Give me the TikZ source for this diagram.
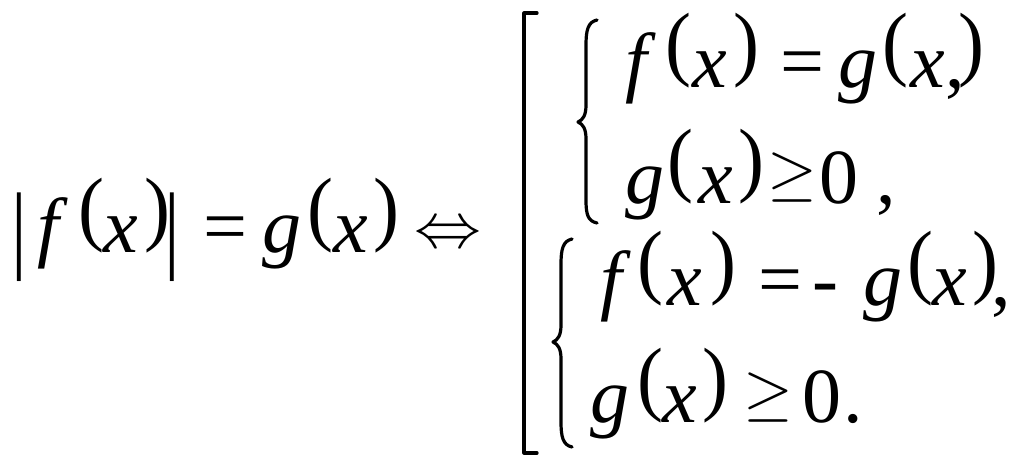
\documentclass[tikz,border=0pt]{standalone}
\usepackage{fontspec}
\setmainfont{Liberation Serif}
\newcommand\lpar{(}
\newcommand\rpar{)}
\tikzset{inner sep=0pt, outer sep=0pt}
\tikzset{
  it/.style={anchor=base west, font=\fontsize{78}{80}\selectfont\itshape},
  up/.style={anchor=base west, font=\fontsize{78}{80}\selectfont},
  par/.style={anchor=south west, font=\fontsize{78}{80}\selectfont},
  sym/.style={anchor=base west, font=\normalsize},
  delim/.style={line width=3.2pt, line cap=round, line join=round}
}

\begin{document}
\begin{tikzpicture}[x=1pt, y=-1pt]
\useasboundingbox (0,0) rectangle (1024,467);
% left side |f(x)| = g(x)
\foreach \ch/\px [count=\i] in {f/37, x/103, g/262, x/333}
  \node[it] (l\i) at (\px,252) {\ch};
\foreach \ch/\px [count=\i] in {\lpar/78, \rpar/144, \lpar/307, \rpar/373}
  \node[par] (lp\i) at (\px,253) {\scalebox{1}[1.06]{\ch}};
\node[up] (leq) at (203,252) {=};
\foreach \px [count=\i] in {12, 164}
  \node[par] (bar\i) at (\px,282) {\scalebox{1}[1.25]{|}};
\node[sym] (iff) at (414,247) {\scalebox{6.7}[6.4]{$\Leftrightarrow$}};
% big bracket
\draw[delim] (537,13) -- (524,13) -- (524,453) -- (537,453);
% braces
\draw[delim] (597,20) .. controls (588,22) and (586,30) .. (586,45) -- (586,105)
  .. controls (586,115) and (583,120) .. (578,122)
  .. controls (583,124) and (586,129) .. (586,139) -- (586,200)
  .. controls (586,215) and (588,221) .. (597,223);
\draw[delim] (572,239) .. controls (563,241) and (561,249) .. (561,264) -- (561,325)
  .. controls (561,335) and (558,340) .. (553,342)
  .. controls (558,344) and (561,349) .. (561,359) -- (561,422)
  .. controls (561,437) and (563,445) .. (572,447);
% row a: f(x) =g(x,)
\foreach \ch/\px [count=\i] in {f/625, x/692, g/838, x/910}
  \node[it] (a\i) at (\px,87) {\ch};
\foreach \ch/\px [count=\i] in {\lpar/665, \rpar/733, \lpar/882, \rpar/958}
  \node[par] (ap\i) at (\px,88) {\scalebox{1}[1.06]{\ch}};
\node[up] (aeq) at (780,87) {=};
\node[up] (acomma) at (945,87) {,};
% row b: g(x) >=0,
\node[it] (b1) at (625,203) {g};
\node[it] (b2) at (698,203) {x};
\foreach \ch/\px [count=\i] in {\lpar/667, \rpar/738}
  \node[par] (bp\i) at (\px,204) {\scalebox{1}[1.06]{\ch}};
\node[sym] (bge) at (767,193) {\scalebox{6.4}{$\geq$}};
\node[up] (bzero) at (819,203) {0};
\node[up] (bcomma) at (876,203) {,};
% row c: f(x) =- g(x),
\foreach \ch/\px [count=\i] in {f/600, x/667, g/863, x/932}
  \node[it] (c\i) at (\px,305) {\ch};
\foreach \ch/\px [count=\i] in {\lpar/637, \rpar/710, \lpar/907, \rpar/972}
  \node[par] (cp\i) at (\px,306) {\scalebox{1}[1.06]{\ch}};
\node[up] (ceq) at (758,305) {=};
\node[up] (cminus) at (812,305) {-};
\node[up] (ccomma) at (991,305) {,};
% row d: g(x) >=0.
\node[it] (d1) at (590,422) {g};
\node[it] (d2) at (662,422) {x};
\foreach \ch/\px [count=\i] in {\lpar/637, \rpar/702}
  \node[par] (dp\i) at (\px,423) {\scalebox{1}[1.06]{\ch}};
\node[sym] (dge) at (743,413) {\scalebox{6.4}{$\geq$}};
\node[up] (dzero) at (802,422) {0};
\node[up] (ddot) at (843,422) {.};
\end{tikzpicture}
\end{document}
